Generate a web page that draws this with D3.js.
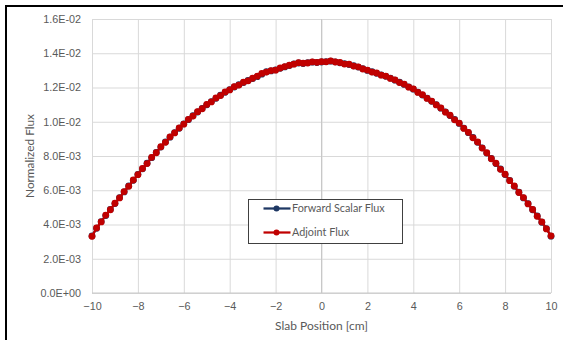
<!DOCTYPE html>
<html>
<head>
<meta charset="utf-8">
<script src="https://cdn.jsdelivr.net/npm/d3@7"></script>
<style>
  body { margin: 0; background: #fff; }
  svg { display: block; font-family: Lato, "Open Sans", sans-serif; }
  .grid line { stroke: #d9d9d9; stroke-width: 1; }
  .tick text { fill: #595959; font-size: 10.8px; }
</style>
</head>
<body>
<svg class="chart"></svg>
<script>
// slab positions, -10 .. 10 cm every 0.2 cm
var positions = d3.range(0, 101).map(function(i) { return +(-10 + i * 0.2).toFixed(1); });

// normalized flux (x 1e-3)
var forwardFlux = [
  3.33, 3.78, 4.17, 4.52, 4.88, 5.22, 5.57, 5.90, 6.25, 6.58,
  6.93, 7.25, 7.58, 7.90, 8.21, 8.52, 8.82, 9.10, 9.37, 9.62,
  9.88, 10.12, 10.35, 10.57, 10.78, 10.99, 11.18, 11.37, 11.55, 11.72,
  11.88, 12.03, 12.16, 12.29, 12.41, 12.52, 12.63, 12.78, 12.92, 12.97,
  13.03, 13.12, 13.20, 13.28, 13.38, 13.43, 13.40, 13.45, 13.48, 13.46,
  13.49, 13.51, 13.54, 13.50, 13.44, 13.39, 13.34, 13.27, 13.19, 13.10,
  13.00, 12.92, 12.83, 12.74, 12.65, 12.55, 12.43, 12.31, 12.18, 12.04,
  11.90, 11.73, 11.56, 11.38, 11.19, 11.00, 10.79, 10.58, 10.36, 10.13,
  9.90, 9.63, 9.36, 9.08, 8.80, 8.48, 8.17, 7.86, 7.56, 7.24,
  6.92, 6.58, 6.23, 5.89, 5.55, 5.22, 4.86, 4.50, 4.13, 3.76,
  3.32
];

var adjointFlux = [
  3.31, 3.80, 4.15, 4.55, 4.86, 5.24, 5.55, 5.92, 6.23, 6.60,
  6.91, 7.27, 7.56, 7.92, 8.19, 8.54, 8.80, 9.12, 9.35, 9.64,
  9.86, 10.14, 10.33, 10.59, 10.76, 11.01, 11.16, 11.39, 11.53, 11.74,
  11.86, 12.05, 12.14, 12.31, 12.39, 12.54, 12.66, 12.82, 12.90, 12.99,
  13.01, 13.14, 13.22, 13.30, 13.36, 13.45, 13.42, 13.43, 13.50, 13.47,
  13.51, 13.50, 13.56, 13.49, 13.46, 13.37, 13.36, 13.25, 13.21, 13.08,
  13.02, 12.90, 12.85, 12.72, 12.67, 12.53, 12.45, 12.29, 12.20, 12.02,
  11.92, 11.71, 11.58, 11.36, 11.21, 10.98, 10.81, 10.56, 10.38, 10.11,
  9.92, 9.61, 9.38, 9.06, 8.82, 8.46, 8.19, 7.84, 7.58, 7.22,
  6.94, 6.56, 6.25, 5.87, 5.57, 5.20, 4.88, 4.48, 4.15, 3.74,
  3.34
];

var yTicks = [0, 0.002, 0.004, 0.006, 0.008, 0.010, 0.012, 0.014, 0.016];
var yTickLabels = ["0.0E+00", "2.0E-03", "4.0E-03", "6.0E-03", "8.0E-03", "1.0E-02", "1.2E-02", "1.4E-02", "1.6E-02"];
var xTicks = [-10, -8, -6, -4, -2, 0, 2, 4, 6, 8, 10];

var series = [
  { name: "Forward Scalar Flux", color: "#1f3864", values: forwardFlux },
  { name: "Adjoint Flux", color: "#c00000", values: adjointFlux }
];

var W = 563, H = 340;
var margin = {top: 19, right: 12, bottom: 47, left: 92},
    width = 551 - margin.left,
    height = 293 - margin.top;

var svg = d3.select(".chart")
    .attr("width", W)
    .attr("height", H);

// frame edges (only top and left show in the picture)
svg.append("line").attr("x1", 6).attr("y1", 6).attr("x2", W).attr("y2", 6)
    .attr("stroke", "#000").attr("stroke-width", 2);
svg.append("line").attr("x1", 6).attr("y1", 5).attr("x2", 6).attr("y2", H)
    .attr("stroke", "#000").attr("stroke-width", 2);

var chart = svg.append("g")
    .attr("transform", "translate(" + margin.left + "," + margin.top + ")");

var x = d3.scaleLinear().domain([-10, 10]).range([0, width]);
var y = d3.scaleLinear().domain([0, 0.016]).range([height, 0]);

// gridlines
chart.append("g")
    .attr("class", "grid")
    .call(d3.axisLeft(y).tickValues(yTicks).tickSize(-width).tickFormat(""))
    .call(function(g) { g.select(".domain").remove(); });

chart.append("g")
    .attr("class", "grid")
    .attr("transform", "translate(0," + height + ")")
    .call(d3.axisBottom(x).tickValues(xTicks).tickSize(-height).tickFormat(""))
    .call(function(g) { g.select(".domain").remove(); });

// value axis crossing at 0 and category axis line
chart.append("line")
    .attr("x1", x(0)).attr("x2", x(0)).attr("y1", 0).attr("y2", height)
    .attr("stroke", "#c8c8c8").attr("stroke-width", 1);
chart.append("line")
    .attr("x1", 0).attr("x2", width).attr("y1", height).attr("y2", height)
    .attr("stroke", "#c8c8c8").attr("stroke-width", 1);

// tick labels
var yAxis = chart.append("g")
    .call(d3.axisLeft(y).tickValues(yTicks).tickSize(0).tickPadding(11)
      .tickFormat(function(d, i) { return yTickLabels[i]; }));
yAxis.select(".domain").remove();

var xAxis = chart.append("g")
    .attr("transform", "translate(0," + height + ")")
    .call(d3.axisBottom(x).tickValues(xTicks).tickSize(0).tickPadding(9));
xAxis.select(".domain").remove();

// titles
svg.append("text")
    .attr("x", margin.left + x(0))
    .attr("y", 330)
    .attr("text-anchor", "middle")
    .attr("fill", "#595959")
    .style("font-size", "12px")
    .text("Slab Position [cm]");

svg.append("text")
    .attr("transform", "translate(34," + (margin.top + height / 2) + ") rotate(-90)")
    .attr("text-anchor", "middle")
    .attr("fill", "#595959")
    .style("font-size", "11.8px")
    .text("Normalized Flux");

// series
var line = d3.line()
    .x(function(d, i) { return x(positions[i]); })
    .y(function(d) { return y(d / 1000); });

series.forEach(function(s) {
  var g = chart.append("g");
  g.append("path")
      .datum(s.values)
      .attr("fill", "none")
      .attr("stroke", s.color)
      .attr("stroke-width", 2.25)
      .attr("d", line);
  g.selectAll("circle")
      .data(s.values)
    .enter().append("circle")
      .attr("cx", function(d, i) { return x(positions[i]); })
      .attr("cy", function(d) { return y(d / 1000); })
      .attr("r", 3.4)
      .attr("fill", s.color);
});

// legend
var legend = svg.append("g").attr("transform", "translate(248.5,199.5)");
legend.append("rect")
    .attr("width", 154).attr("height", 44)
    .attr("fill", "#fff").attr("stroke", "#404040").attr("stroke-width", 1);

var item = legend.selectAll("g.item")
    .data(series)
  .enter().append("g")
    .attr("class", "item")
    .attr("transform", function(d, i) { return "translate(0," + (9 + i * 24) + ")"; });

item.append("line")
    .attr("x1", 15).attr("x2", 42)
    .attr("stroke", function(d) { return d.color; })
    .attr("stroke-width", 2.25);
item.append("circle")
    .attr("cx", 28).attr("r", 3)
    .attr("fill", function(d) { return d.color; });
item.append("text")
    .attr("x", 43.5)
    .attr("dy", "0.35em")
    .attr("fill", "#595959")
    .style("font-size", "10.8px")
    .text(function(d) { return d.name; });
</script>
</body>
</html>
